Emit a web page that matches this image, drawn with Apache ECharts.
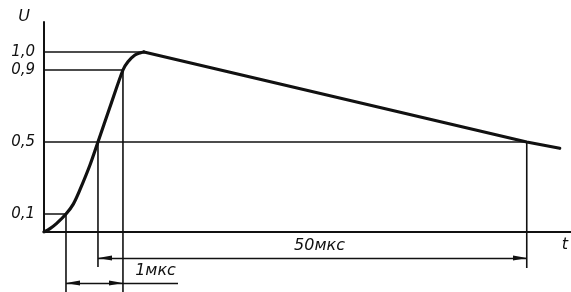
<!DOCTYPE html>
<html>
<head>
<meta charset="utf-8">
<script src="https://cdn.jsdelivr.net/npm/echarts@6/dist/echarts.min.js"></script>
<style>
  html, body { margin: 0; background: #fff; }
  #pulseChart { width: 571px; height: 292px; }
</style>
</head>
<body>
<div id="pulseChart"></div>
<script>
  // форма импульса: U в относительных единицах, t - положение по чертежу (не в масштабе)
  // фронт (до максимума)
  const riseT = [0, 6, 12.7, 22, 29.3, 36, 46, 54, 66, 79, 84, 91, 96, 100]
  const riseU = [0, 0.019, 0.048, 0.1, 0.155, 0.235, 0.372, 0.5, 0.694, 0.9, 0.946, 0.983, 0.995, 1.0]
  // спад (прямая)
  const fallT = [100, 483, 516]
  const fallU = [1.0, 0.5, 0.465]

  // уровни 0,1 / 0,5 / 0,9 / 1,0 и где их линии упираются в кривую
  const levelU = [0.1, 0.5, 0.9, 1.0]
  const levelLabels = ['0,1', '0,5', '0,9', '1,0']
  const levelEndT = [22, 483, 79, 100]

  // выносные линии вниз
  const dropT = [22, 54, 79, 483]
  const dropTop = [0.1, 0.5, 0.9, 0.5]
  const dropBottom = [-0.333, -0.194, -0.333, -0.2]

  // размерные линии
  const dimNames = ['50мкс', '1мкс']
  const dimFrom = [54, 22]
  const dimTo = [483, 79]
  const dimLevel = [-0.144, -0.283]
  const dimTailEnd = 134

  const ink = '#111'
  const font = 'DejaVu Sans'
  const arrow = 'path://M5,0L10,30L0,30Z'

  let chart = echarts.init(document.getElementById('pulseChart'))

  let series = [{
    type: 'line',
    data: riseT.map((t, i) => [t, riseU[i]]),
    smooth: 0.3,
    showSymbol: false,
    lineStyle: { color: ink, width: 3.2, cap: 'round' }
  }, {
    type: 'line',
    data: fallT.map((t, i) => [t, fallU[i]]),
    showSymbol: false,
    lineStyle: { color: ink, width: 3.2, cap: 'round' }
  }]

  levelU.forEach((u, i) => {
    series.push({
      type: 'line',
      data: [[0, u], [levelEndT[i], u]],
      showSymbol: false,
      lineStyle: { color: ink, width: 1.6 }
    })
  })

  dropT.forEach((t, i) => {
    series.push({
      type: 'line',
      data: [[t, dropTop[i]], [t, dropBottom[i]]],
      showSymbol: false,
      clip: false,
      lineStyle: { color: ink, width: 1.6 }
    })
  })

  let dimLabel = (text, dx) => ({
    show: true,
    position: 'insideMiddleTop',
    formatter: text,
    color: ink,
    fontFamily: font,
    fontStyle: 'italic',
    fontSize: 16,
    distance: 4,
    offset: [dx, 0]
  })

  series.push({
    type: 'line',
    xAxisIndex: 1,
    yAxisIndex: 1,
    data: [],
    markLine: {
      silent: true,
      animation: false,
      symbol: [arrow, arrow],
      symbolSize: [5, 14],
      symbolOffset: [[0, 7], [0, 7]],
      lineStyle: { color: ink, width: 1.3, type: 'solid' },
      label: { show: false },
      data: [
        [{ coord: [dimFrom[0], dimLevel[0]], label: dimLabel(dimNames[0], 7) }, { coord: [dimTo[0], dimLevel[0]] }],
        [{ coord: [dimFrom[1], dimLevel[1]] }, { coord: [dimTo[1], dimLevel[1]] }],
        [{ coord: [dimTo[1], dimLevel[1]], symbol: 'none', label: dimLabel(dimNames[1], 5) },
         { coord: [dimTailEnd, dimLevel[1]], symbol: 'none' }]
      ]
    }
  })

  chart.setOption({
    animation: false,
    grid: [
      { left: 44, right: 0, top: 22, bottom: 60 },
      { left: 44, right: 0, top: 232, bottom: 0 }
    ],
    xAxis: [{
      type: 'value',
      min: 0,
      max: 527,
      name: 't',
      nameLocation: 'end',
      nameGap: -9,
      nameTextStyle: { color: ink, fontFamily: font, fontStyle: 'italic', fontSize: 16, verticalAlign: 'top', padding: [5, 0, 0, 0] },
      axisLine: { lineStyle: { color: ink, width: 2 } },
      axisTick: { show: false },
      axisLabel: { show: false },
      splitLine: { show: false }
    }, {
      type: 'value',
      gridIndex: 1,
      min: 0,
      max: 527,
      show: false
    }],
    yAxis: [{
      type: 'value',
      min: 0,
      max: 210 / 180,
      name: 'U',
      nameLocation: 'end',
      nameGap: 0,
      nameTextStyle: { color: ink, fontFamily: font, fontStyle: 'italic', fontSize: 16, align: 'right', verticalAlign: 'bottom', padding: [0, 14, -3, 0] },
      axisLine: { lineStyle: { color: ink, width: 2 } },
      axisTick: { show: false },
      axisLabel: {
        customValues: levelU,
        formatter: (v) => levelLabels[levelU.indexOf(v)],
        color: ink,
        fontFamily: font,
        fontStyle: 'italic',
        fontSize: 15,
        margin: 9
      },
      splitLine: { show: false }
    }, {
      type: 'value',
      gridIndex: 1,
      min: -60 / 180,
      max: 0,
      show: false
    }],
    series: series
  })
</script>
</body>
</html>
